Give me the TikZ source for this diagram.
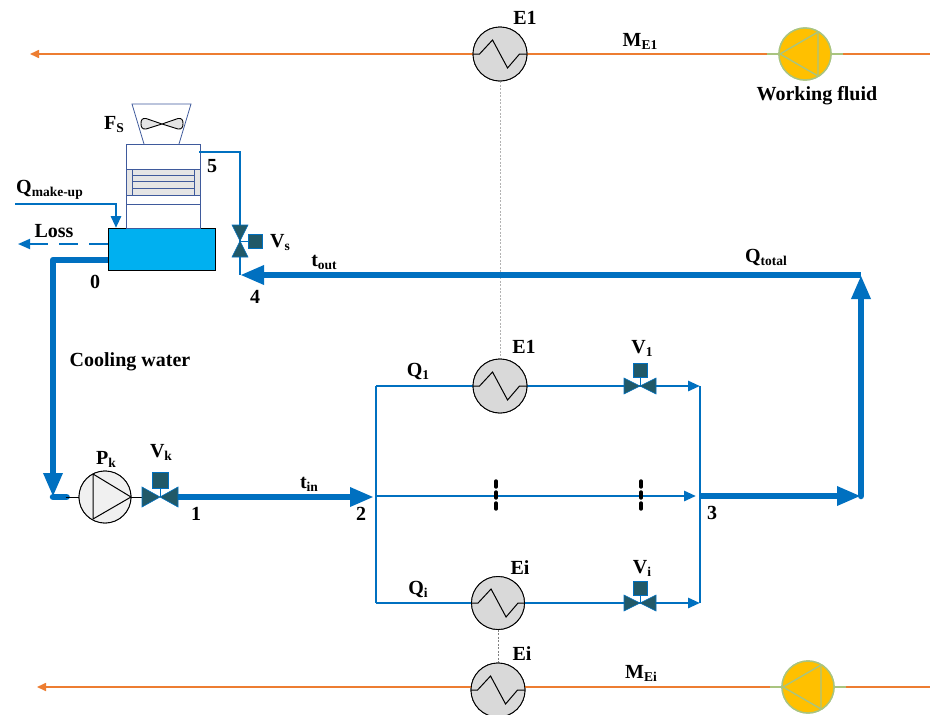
\documentclass[tikz,border=0pt]{standalone}
\usepackage{fontspec}
\setmainfont{Liberation Serif}
\usetikzlibrary{arrows.meta}
\definecolor{pipe}{HTML}{0070C0}
\definecolor{orangeline}{HTML}{ED7D31}
\definecolor{pumpgreen}{HTML}{A9C47F}
\definecolor{pumpyellow}{HTML}{FFC000}
\definecolor{valvedark}{HTML}{215968}
\definecolor{tower}{HTML}{3F5A9C}
\definecolor{tank}{HTML}{00B0F0}
\newcommand{\lbl}[2]{{\bfseries #1\raisebox{-3pt}{\fontsize{13.5}{14}\selectfont #2}}}
\newcommand{\hxzig}[1]{\draw[black,line width=1pt] (#1.west) -- ++(7,0) -- ++(13,-14) -- ++(15,28) -- ++(12,-14) -- (#1.east);}
\newcommand{\valveh}[1]{%
  \fill[valvedark,draw=pipe,line width=0.6pt] ([xshift=-16pt,yshift=8pt]#1.center) -- (#1.center) -- ([xshift=-16pt,yshift=-8pt]#1.center) -- cycle;
  \fill[valvedark,draw=pipe,line width=0.6pt] ([xshift=16pt,yshift=8pt]#1.center) -- (#1.center) -- ([xshift=16pt,yshift=-8pt]#1.center) -- cycle;}
\newcommand{\wfpump}[1]{\draw[pumpgreen,line width=1.4pt,line join=round] ([xshift=-25pt]#1.center) -- ([xshift=13pt,yshift=22pt]#1.center) -- ([xshift=13pt,yshift=-22pt]#1.center) -- cycle;}
\tikzset{
  txt/.style={inner sep=0pt,font=\fontsize{20}{22}\selectfont\bfseries},
  hx/.style={circle,draw=black,fill=black!15,line width=0.9pt,minimum size=54pt,inner sep=0pt},
  wf/.style={circle,draw=pumpgreen,fill=pumpyellow,line width=1.4pt,minimum size=52pt,inner sep=0pt},
  valvepoint/.style={inner sep=0pt,minimum size=0pt},
  act/.style={rectangle,draw=pipe,fill=valvedark,line width=0.6pt,minimum size=14pt,inner sep=0pt},
  thinpipe/.style={draw=pipe,line width=2.8pt},
  thickpipe/.style={draw=pipe,line width=6.5pt},
  thinarrow/.style={-{Triangle[length=12pt,width=10pt]}},
  thickarrow/.style={-{Triangle[length=24pt,width=18pt]}},
  oline/.style={draw=orangeline,line width=1.6pt},
  tie/.style={draw=gray!60,line width=0.8pt,dash pattern=on 2pt off 1.5pt},
  towerline/.style={draw=tower,line width=0.8pt}
}
\begin{document}
\begin{tikzpicture}[x=1pt,y=-1pt]
\fill[white] (0,0) rectangle (930,715);
\useasboundingbox (0,0) rectangle (930,715);
% --- equipment anchors
\coordinate (topR) at (930,54);   \coordinate (topL) at (30,54);
\coordinate (botR) at (930,687);  \coordinate (botL) at (37,687);
\coordinate (j2t) at (376,386);   \coordinate (j2) at (376,496); \coordinate (j2b) at (376,603);
\coordinate (j3t) at (700,386);   \coordinate (j3) at (700,496); \coordinate (j3b) at (700,603);
\coordinate (ctr) at (861,496);   \coordinate (cor) at (861,275);
\coordinate (j4) at (240,275);    \coordinate (j5) at (240,152); \coordinate (towerout) at (199,152);
\coordinate (cwcorner) at (53,260); \coordinate (cwdown) at (53,497);
\coordinate (mk0) at (15,204);    \coordinate (mk1) at (116,204); \coordinate (mk2) at (116,228);
\coordinate (lossend) at (18,244);
\coordinate (d1a) at (496,481);   \coordinate (d1b) at (496,512);
\coordinate (d2a) at (641,481);   \coordinate (d2b) at (641,512);

\node[hx] (E1top) at (500,54) {};
\node[wf] (WFtop) at (805,54) {};
\node[hx] (E1) at (500,386) {};
\node[hx,minimum size=53pt] (Ei) at (498,603) {};
\node[hx] (Eibot) at (498,690) {};
\node[wf] (WFbot) at (808,687) {};
\node[circle,draw=black,fill=black!6,line width=0.9pt,minimum size=52pt,inner sep=0pt] (Pk) at (105,497) {};
\node[valvepoint] (Vk) at (160,497) {};
\node[valvepoint] (V1) at (640,386) {};
\node[valvepoint] (Vi) at (640,603) {};
\node[valvepoint] (Vs) at (240,241) {};
\node[rectangle,draw=black,fill=tank,line width=0.7pt,minimum width=107pt,minimum height=42pt,inner sep=0pt] (Tank) at (161.5,249) {};
\node[act,minimum size=16pt] (VkA) at (160,480) {};
\node[act] (V1A) at (640,370) {};
\node[act] (ViA) at (640,588) {};
\node[act] (VsA) at (255,241) {};

% --- tower
\fill[black!10] (126,169) rectangle (200,195);
\draw[towerline] (126,169) -- (200,169) (126,195) -- (200,195) (126,204) -- (200,204);
\draw[towerline] (126,144) rectangle (200,228);
\draw[towerline] (132,169) -- (132,195) (194,169) -- (194,195);
\draw[towerline,line width=0.7pt] (132,175) -- (194,175) (132,181) -- (194,181) (132,188) -- (194,188);
\draw[towerline] (144,144) -- (132,104) -- (191,104) -- (179,144);
\draw[black,fill=black!10,line width=0.9pt,line join=round] (162,124) -- (146,118.5)
  .. controls (142,118) and (141,120) .. (141,123.5) .. controls (141,127) and (142,129.5) .. (146,129)
  -- (162,124) -- (178,118.5) .. controls (182,118) and (183,120) .. (183,123.5)
  .. controls (183,127) and (182,129.5) .. (178,129) -- cycle;

% --- orange lines
\draw[oline,-{Triangle[length=9pt,width=8pt]}] (topR) -- (topL);
\draw[oline,-{Triangle[length=9pt,width=8pt]}] (botR) -- (botL);
\draw[pumpgreen,line width=1.6pt] (767,54) -- (843,54);
\draw[pumpgreen,line width=1.6pt] (770,687) -- (846,687);
\draw[tie] (E1top.south) -- (E1.north);
\draw[tie,draw=gray] (Ei.south) -- (Eibot.north);

% --- thin pipes
\draw[thinpipe] (j2t) -- (j2b);
\draw[thinpipe] (j3t) -- (j3b);
\draw[thinpipe] (j2t) -- (E1.west);
\draw[thinpipe,thinarrow] (E1.east) -- (j3t);
\draw[thinpipe] (j2b) -- (Ei.west);
\draw[thinpipe,thinarrow] (Ei.east) -- (j3b);
\draw[thinpipe,thinarrow] (j2) -- ([xshift=-4pt]j3);
\draw[thinpipe] (towerout) -- (j5) -- (j4);
\draw[thinpipe,thinarrow] (mk0) -- (mk1) -- (mk2);
\draw[pipe,line width=1.8pt,dash pattern=on 19pt off 11pt,thinarrow] (Tank.west |- lossend) -- (lossend);

% --- thick pipes
\draw[thickpipe,thickarrow] ([xshift=18pt]Vk.center) -- ([xshift=-2pt]j2 |- Vk);
\draw[thickpipe,thickarrow] (j3) -- (ctr);
\draw[thickpipe,thickarrow,line cap=round] (ctr) -- (cor);
\draw[thickpipe,thickarrow] (cor) -- (j4);
\draw[thickpipe,thickarrow,line join=round] (Tank.west |- cwcorner) -- (cwcorner) -- (cwdown);
\draw[thickpipe,line cap=round] (cwdown) -- ([xshift=-12pt]Pk.west);

% --- redraw equipment over pipes
\node[hx] at (E1top) {}; \hxzig{E1top}
\node[wf] at (WFtop) {}; \wfpump{WFtop}
\node[hx] at (E1) {}; \hxzig{E1}
\node[hx,minimum size=53pt] at (Ei) {}; \hxzig{Ei}
\node[hx] at (Eibot) {}; \hxzig{Eibot}
\node[wf] at (WFbot) {}; \wfpump{WFbot}
\node[circle,draw=black,fill=black!6,line width=0.9pt,minimum size=52pt,inner sep=0pt] at (Pk) {};
\draw[black,line width=1pt,line join=round] ([xshift=-12pt,yshift=23pt]Pk.center) -- ([xshift=26pt]Pk.center) -- ([xshift=-12pt,yshift=-22pt]Pk.center) -- cycle;
\draw[black,line width=0.9pt] ([xshift=-13pt]Pk.west) -- (Pk.west);
\draw[black,line width=0.9pt] (Pk.east) -- ([xshift=-18pt]Vk.center);

% --- valves
\draw[pipe,line width=1pt] (V1) -- (V1A);
\draw[pipe,line width=1pt] (Vi) -- (ViA);
\draw[pipe,line width=1pt] (Vk) -- (VkA);
\draw[pipe,line width=1pt] (Vs) -- (VsA);
\valveh{V1}
\valveh{Vi}
\fill[valvedark,draw=pipe,line width=0.6pt] (142,487) -- (160,497) -- (142,507) -- cycle;
\fill[valvedark,draw=pipe,line width=0.6pt] (178,487) -- (160,497) -- (178,507) -- cycle;
\fill[valvedark,draw=pipe,line width=0.6pt] (232,225) -- (240,241) -- (248,225) -- cycle;
\fill[valvedark,draw=pipe,line width=0.6pt] (232,257) -- (240,241) -- (248,257) -- cycle;
\node[act,minimum size=16pt] at (VkA) {};
\node[act] at (V1A) {};
\node[act] at (ViA) {};
\node[act] at (VsA) {};

% --- dashes
\draw[black,line width=3.4pt,dash pattern=on 6pt off 5pt,line cap=round] (d1a) -- (d1b);
\draw[black,line width=3.4pt,dash pattern=on 6pt off 5pt,line cap=round] (d2a) -- (d2b);

% --- labels
\node[txt] (tE1a) at (525,18) {E1};
\node[txt] (tME1) at (640,41) {\lbl{M}{E1}};
\node[txt] (tWF) at (817,96) {Working fluid};
\node[txt] (tFs) at (114,125) {\lbl{F}{S}};
\node[txt] (t5) at (212,166) {5};
\node[txt,anchor=west] (tQm) at (16,190) {\lbl{Q}{make-up}};
\node[txt] (tLoss) at (54,231) {Loss};
\node[txt] (tVs) at (280,243) {\lbl{V}{s}};
\node[txt] (t0) at (95,282) {0};
\node[txt] (t4) at (255,297) {4};
\node[txt] (ttout) at (324,262) {\lbl{t}{out}};
\node[txt] (tQt) at (766,257) {\lbl{Q}{total}};
\node[txt] (tCW) at (130,362) {Cooling water};
\node[txt] (tE1b) at (524,347) {E1};
\node[txt] (tV1) at (642,348) {\lbl{V}{1}};
\node[txt] (tQ1) at (418,371) {\lbl{Q}{1}};
\node[txt] (tPk) at (106,459) {\lbl{P}{k}};
\node[txt] (tVk) at (161,452) {\lbl{V}{k}};
\node[txt] (t1) at (196,514) {1};
\node[txt] (ttin) at (309,484) {\lbl{t}{in}};
\node[txt] (t2) at (361,514) {2};
\node[txt] (t3) at (712,513) {3};
\node[txt] (tEi) at (520,568) {Ei};
\node[txt] (tVi) at (642,568) {\lbl{V}{i}};
\node[txt] (tQi) at (418,589) {\lbl{Q}{i}};
\node[txt] (tEib) at (522,654) {Ei};
\node[txt] (tMEi) at (641,673) {\lbl{M}{Ei}};
\end{tikzpicture}
\end{document}
